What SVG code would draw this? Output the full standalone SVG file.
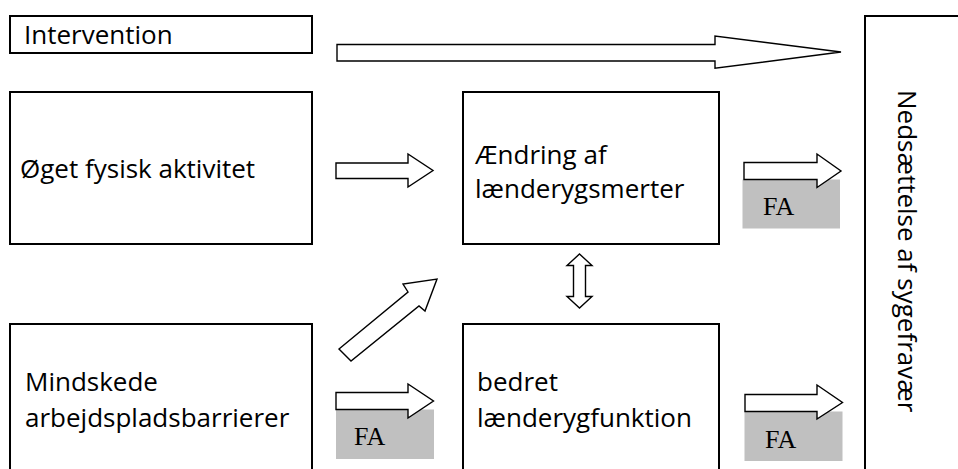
<svg xmlns="http://www.w3.org/2000/svg" width="958" height="469" viewBox="0 0 958 469">
<style>
.box{fill:#fff;stroke:#000;stroke-width:2}
.lbl{font-family:"Open Sans","Liberation Sans",sans-serif;font-size:26px;fill:#000}
.arr{fill:#fff;stroke:#000;stroke-width:1.4;stroke-linejoin:miter}
.fa{fill:#c0c0c0}
.fat{font-family:"Liberation Serif","Times New Roman",serif;font-size:26px;fill:#000}
</style>
<rect width="958" height="469" fill="#fff"/>
<g id="intervention">
<rect class="box" x="10" y="16" width="302" height="37"/>
<text class="lbl" x="24" y="44">Intervention</text>
</g>
<g id="oeget">
<rect class="box" x="10" y="92" width="302" height="152"/>
<text class="lbl" x="20" y="178">Øget fysisk aktivitet</text>
</g>
<g id="aendring">
<rect class="box" x="463" y="92" width="256" height="152"/>
<text class="lbl" x="475" y="164">Ændring af</text>
<text class="lbl" x="475" y="198">lænderygsmerter</text>
</g>
<g id="mindskede">
<rect class="box" x="10" y="324" width="302" height="160"/>
<text class="lbl" x="25" y="391">Mindskede</text>
<text class="lbl" x="25" y="427">arbejdspladsbarrierer</text>
</g>
<g id="bedret">
<rect class="box" x="463" y="324" width="256" height="160"/>
<text class="lbl" x="477" y="391">bedret</text>
<text class="lbl" x="477" y="427">lænderygfunktion</text>
</g>
<g id="nedsaettelse">
<rect class="box" x="865" y="16" width="120" height="470"/>
<text class="lbl" transform="translate(898,90) rotate(90)" x="0" y="0">Nedsættelse af sygefravær</text>
</g>
<g id="fa-labels">
<rect class="fa" x="742.5" y="179.5" width="97.5" height="49"/>
<text class="fat" x="763" y="215">FA</text>
<rect class="fa" x="336" y="409.5" width="98" height="49.5"/>
<text class="fat" x="354" y="445">FA</text>
<rect class="fa" x="744.5" y="411.5" width="98" height="49.5"/>
<text class="fat" x="765" y="447.5">FA</text>
</g>
<g id="connectors">
<polygon class="arr" points="337,44.5 715,44.5 715,36 841,52 715,68.3 715,61 337,61"/>
<polygon class="arr" points="336,163 408,163 408,154 433,170.5 408,187 408,178.5 336,178.5"/>
<polygon class="arr" points="744,162.5 817,162.5 817,154 841,171 817,187.5 817,179.5 744,179.5"/>
<polygon class="arr" points="339,349 408,292 403,284 437,279 425,311 419,306 351,361"/>
<polygon class="arr" points="579.5,254 592,265.5 585.5,265.5 585.5,296.5 592,296.5 579.5,308 567,296.5 573.5,296.5 573.5,265.5 567,265.5"/>
<polygon class="arr" points="336,392.5 408,392.5 408,384 433.5,401 408,418 408,409.5 336,409.5"/>
<polygon class="arr" points="745,394.5 817,394.5 817,385 842.5,402.5 817,419 817,411.5 745,411.5"/>
</g>
</svg>
